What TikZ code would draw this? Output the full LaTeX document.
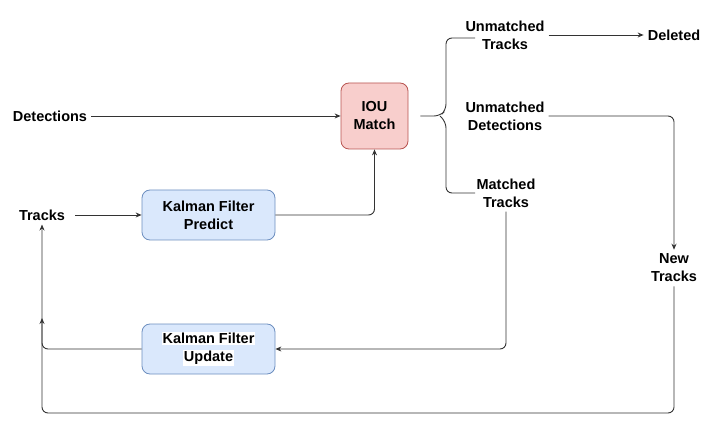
\documentclass[tikz,border=0pt]{standalone}
\usepackage{fontspec}
\setmainfont{Liberation Sans}
\usetikzlibrary{arrows.meta,positioning}
\usepackage{xcolor}
\definecolor{iouFill}{HTML}{F8CECC}
\definecolor{iouLine}{HTML}{B85450}
\definecolor{kfFill}{HTML}{DAE8FC}
\definecolor{kfLine}{HTML}{6C8EBF}
\definecolor{wire}{HTML}{333333}
\newcommand{\hl}[1]{{\setlength{\fboxsep}{0.8pt}\colorbox{white}{#1}}}

\begin{document}
\begin{tikzpicture}[x=1pt, y=-1pt, font=\fontsize{14.5}{18}\selectfont\bfseries,
    >={Stealth[length=6pt,width=5pt]},
    box/.style={draw=#1Line, fill=#1Fill, line width=0.8pt, align=center,
                rounded corners=8pt},
    lbl/.style={align=center, inner sep=4pt},
    wire/.style={draw=wire, line width=0.9pt, rounded corners=6pt}]
  \useasboundingbox (0,0) rectangle (719,443);
  %% Boxes
  \node[box=iou, minimum width=67pt, minimum height=66pt] (iou) at (374.5,116)
    {IOU\\Match};
  \node[box=kf, minimum width=133pt, minimum height=50pt] (predict) at (208.5,215)
    {Kalman Filter\\Predict};
  \node[box=kf, minimum width=133pt, minimum height=50pt] (update) at (208.5,349)
    {\hl{Kalman Filter}\\\hl{Update}};
  %% Plain labels
  \node[lbl] (det) at (50,116) {Detections};
  \node[lbl] (tracks) at (42,215) {Tracks};
  \node[lbl] (umt) at (505,35) {Unmatched\\Tracks};
  \node[lbl] (deleted) at (674,35) {Deleted};
  \node[lbl] (umd) at (505,116) {Unmatched\\Detections};
  \node[lbl] (mt) at (506,193) {Matched\\Tracks};
  \node[lbl] (new) at (674,268) {New\\Tracks};
  \coordinate (kfin) at (42,318);
  \coordinate (loop) at (42,413);
  %% Straight arrows
  \foreach \from/\to in {det/iou,umt/deleted}
    \draw[wire, ->] (\from) -- (\to);
  \draw[wire, ->] ([xshift=6pt]tracks.east) -- (predict.west);
  %% Split of the match result
  \draw[wire] ([xshift=12pt]iou.east) -- (440,116)
    -- (446,110) -- (446,38) -- (475,38);
  \draw[wire] (440,116) -- (446,122) -- (446,193) -- (475,193);
  %% Elbow connectors
  \draw[wire, ->] (predict.east) -| (iou.south);
  \draw[wire, ->] (umd.east) -| (new.north);
  \draw[wire, ->] (mt.south) |- (update.east);
  \draw[wire, ->] (update.west) -| (kfin);
  \draw[wire, ->] (new.south) |- (loop) -- (tracks.south);
\end{tikzpicture}
\end{document}
